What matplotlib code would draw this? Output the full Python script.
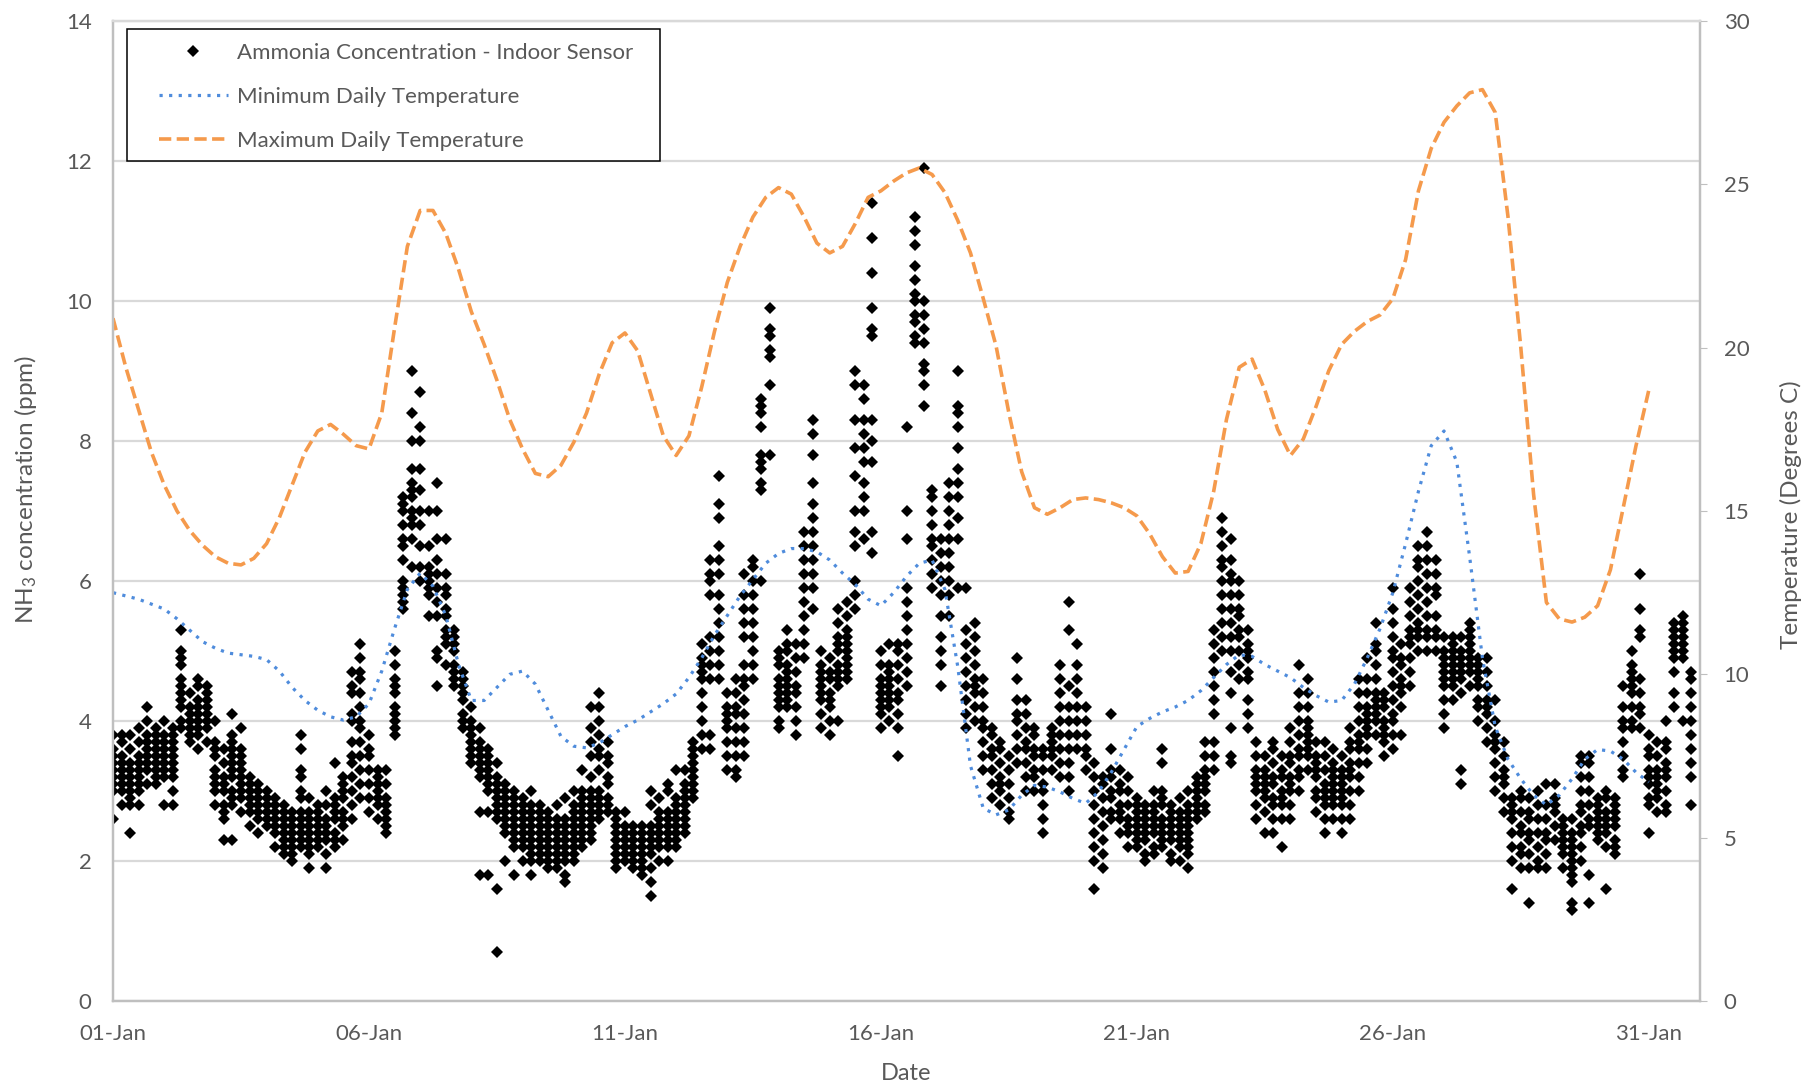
import numpy as np
import matplotlib
matplotlib.use("Agg")
import matplotlib.pyplot as plt
from matplotlib.lines import Line2D
from matplotlib.patches import Rectangle

plt.rcParams['font.family'] = ['Lato', 'DejaVu Sans']
plt.rcParams['mathtext.default'] = 'regular'

# ppm readings, one inner list per 4 hour step, one source line per day
ppm_jan01_05 = [
    [2.6,3.0,3.1,3.2,3.3,3.4,3.5,3.6,3.8],[2.8,3.0,3.1,3.2,3.3,3.4,3.5,3.7,3.8],[2.4,2.8,2.9,3.0,3.1,3.2,3.3,3.4,3.6,3.8],[2.8,3.0,3.1,3.2,3.3,3.4,3.5,3.7,3.9],[3.1,3.3,3.4,3.5,3.6,3.7,3.8,4.0,4.2],[3.1,3.2,3.3,3.4,3.5,3.6,3.7,3.8,3.9],
    [2.8,3.2,3.3,3.4,3.5,3.6,3.7,3.8,4.0],[2.8,3.0,3.2,3.3,3.4,3.5,3.6,3.7,3.8,3.9],[3.9,4.0,4.2,4.3,4.4,4.5,4.6,4.8,4.9,5.0,5.3],[3.7,3.8,3.9,4.0,4.1,4.2,4.4],[3.6,3.8,3.9,4.0,4.1,4.2,4.3,4.5,4.6],[3.7,3.9,4.0,4.1,4.2,4.3,4.4,4.5],
    [2.8,3.0,3.1,3.2,3.3,3.5,3.6,3.7,4.0],[2.3,2.6,2.7,2.8,3.0,3.1,3.2,3.4,3.6],[2.3,2.8,2.9,3.0,3.2,3.3,3.4,3.5,3.6,3.7,3.8,4.1],[2.7,2.9,3.0,3.1,3.2,3.3,3.4,3.5,3.6,3.9],[2.5,2.7,2.8,2.9,3.0,3.1,3.2],[2.4,2.6,2.7,2.8,2.9,3.0,3.1],
    [2.5,2.6,2.7,2.8,2.9,3.0],[2.2,2.4,2.5,2.6,2.7,2.8,2.9],[2.1,2.2,2.3,2.4,2.5,2.6,2.7,2.8],[2.0,2.1,2.2,2.3,2.4,2.5,2.6,2.7],[2.2,2.3,2.4,2.5,2.6,2.7,2.9,3.0,3.2,3.3,3.6,3.8],[1.9,2.1,2.2,2.3,2.4,2.5,2.6,2.7,2.9],
    [2.2,2.3,2.4,2.5,2.6,2.7,2.8],[1.9,2.1,2.3,2.4,2.5,2.6,2.8,3.0],[2.2,2.3,2.4,2.6,2.7,2.8,2.9,3.4],[2.3,2.5,2.6,2.7,2.9,3.0,3.1,3.2],[2.6,2.8,3.0,3.2,3.4,3.5,3.7,4.0,4.1,4.4,4.5,4.7],[2.9,3.1,3.3,3.5,3.7,3.9,4.0,4.2,4.4,4.6,4.7,4.9,5.1],
]
ppm_jan06_10 = [
    [2.7,2.9,3.1,3.3,3.5,3.6,3.8],[2.6,2.8,2.9,3.0,3.1,3.2,3.3],[2.4,2.5,2.6,2.7,2.8,2.9,3.1,3.3],[3.8,3.9,4.0,4.1,4.2,4.4,4.5,4.6,4.8,5.0],[5.6,5.7,5.8,5.9,6.0,6.3,6.5,6.6,6.8,7.0,7.1,7.2],[6.2,6.6,6.8,6.9,7.0,7.2,7.3,7.4,7.6,8.0,8.4,9.0],
    [6.0,6.2,6.5,6.8,7.0,7.3,7.6,8.0,8.2,8.7],[5.5,5.8,5.9,6.0,6.1,6.2,6.5,7.0],[4.5,4.9,5.0,5.5,5.7,5.9,6.1,6.3,6.6,7.0,7.4],[4.8,5.1,5.2,5.3,5.5,5.6,5.8,5.9,6.1,6.6],[4.5,4.6,4.7,4.8,5.0,5.1,5.2,5.3],[3.9,4.0,4.1,4.3,4.4,4.5,4.6,4.7],
    [3.4,3.5,3.6,3.7,3.8,3.9,4.0,4.2],[1.8,2.7,3.2,3.3,3.4,3.5,3.6,3.7,3.9],[1.8,2.7,3.0,3.1,3.2,3.3,3.4,3.5,3.6],[0.7,1.6,2.6,2.7,2.8,2.9,3.0,3.1,3.2,3.4],[2.0,2.4,2.5,2.6,2.7,2.8,2.9,3.0,3.1],[1.8,2.2,2.3,2.4,2.5,2.6,2.7,2.8,2.9,3.0],
    [2.0,2.2,2.3,2.4,2.5,2.6,2.7,2.8,2.9],[1.8,2.0,2.1,2.2,2.3,2.4,2.5,2.6,2.7,2.8,3.0],[2.0,2.1,2.2,2.3,2.4,2.5,2.6,2.7,2.8],[1.9,2.0,2.1,2.2,2.3,2.4,2.5,2.6,2.7],[1.9,2.0,2.1,2.2,2.3,2.4,2.5,2.6,2.8],[1.7,1.8,2.0,2.1,2.2,2.3,2.4,2.5,2.6,2.9],
    [2.0,2.1,2.2,2.3,2.4,2.5,2.6,2.7,2.8,3.0],[2.2,2.3,2.4,2.5,2.6,2.7,2.8,2.9,3.0,3.3],[2.3,2.4,2.5,2.6,2.7,2.8,2.9,3.0,3.2,3.5,3.7,3.9,4.2],[2.6,2.7,2.8,2.9,3.0,3.3,3.5,3.6,3.8,4.0,4.2,4.4],[2.7,2.8,2.9,3.1,3.2,3.4,3.5,3.7],[1.9,2.0,2.1,2.2,2.3,2.4,2.5,2.6,2.7],
]
ppm_jan11_15 = [
    [2.0,2.1,2.2,2.3,2.4,2.5,2.7],[1.9,2.0,2.1,2.2,2.3,2.4,2.5],[1.8,1.9,2.0,2.1,2.2,2.3,2.4,2.5],[1.5,1.7,1.9,2.1,2.2,2.3,2.4,2.5,2.8,3.0],[2.0,2.2,2.3,2.4,2.5,2.6,2.7,2.9],[2.0,2.2,2.3,2.4,2.5,2.6,2.7,3.0,3.1],
    [2.2,2.3,2.4,2.5,2.6,2.7,2.8,2.9,3.3],[2.4,2.5,2.6,2.7,2.8,2.9,3.0,3.1,3.3],[2.9,3.0,3.1,3.2,3.3,3.4,3.5,3.6,3.7],[3.6,3.8,4.0,4.2,4.4,4.6,4.7,4.8,4.9,5.1],[3.6,3.8,4.6,4.8,5.0,5.2,5.8,6.0,6.1,6.3],[4.6,4.8,5.0,5.2,5.4,5.6,5.8,6.1,6.3,6.5,6.9,7.1,7.5],
    [3.3,3.5,3.7,3.9,4.0,4.1,4.2,4.4],[3.2,3.3,3.5,3.7,3.9,4.1,4.2,4.4,4.6],[3.5,3.7,3.9,4.1,4.3,4.5,4.6,4.8,5.2,5.4,5.6,5.8,6.1],[4.6,4.8,5.0,5.2,5.4,5.6,5.8,6.0,6.2,6.3],[6.0,7.3,7.4,7.6,7.7,7.8,8.2,8.4,8.5,8.6],[7.8,8.8,9.2,9.3,9.5,9.6,9.9],
    [3.9,4.0,4.2,4.3,4.4,4.5,4.6,4.8,4.9,5.0],[4.2,4.3,4.4,4.5,4.6,4.7,4.8,5.0,5.1,5.3],[3.8,4.0,4.2,4.4,4.5,4.7,4.9,5.1],[4.9,5.1,5.3,5.5,5.7,5.9,6.1,6.3,6.5,6.7],[5.6,5.9,6.1,6.3,6.5,6.7,6.9,7.1,7.4,7.8,8.1,8.3],[3.9,4.1,4.3,4.4,4.5,4.6,4.7,4.8,5.0],
    [3.8,4.0,4.2,4.3,4.4,4.6,4.7,4.9],[4.0,4.5,4.6,4.7,4.8,5.0,5.1,5.2,5.4,5.6],[4.6,4.7,4.8,4.9,5.0,5.1,5.2,5.3,5.5,5.7],[5.6,5.8,6.0,6.5,6.7,7.0,7.5,7.9,8.3,8.8,9.0],[6.6,7.0,7.2,7.4,7.7,7.9,8.1,8.3,8.6,8.8],[6.4,6.7,7.7,8.0,8.3,9.5,9.6,9.9,10.4,10.9,11.4],
]
ppm_jan16_20 = [
    [3.9,4.1,4.2,4.3,4.4,4.5,4.6,4.8,5.0],[4.0,4.2,4.3,4.4,4.5,4.6,4.7,4.8,5.1],[3.5,3.9,4.1,4.3,4.4,4.6,4.8,5.0,5.1],[4.5,4.7,4.9,5.1,5.3,5.5,5.7,5.9,6.6,7.0,8.2],[9.4,9.5,9.7,9.8,10.0,10.1,10.3,10.5,10.8,11.0,11.2],[8.5,8.8,9.0,9.1,9.4,9.6,9.8,10.0,11.9],
    [5.9,6.1,6.3,6.5,6.6,6.8,7.0,7.2,7.3],[4.5,4.8,5.0,5.2,5.5,5.8,6.0,6.2,6.4,6.6],[5.5,5.8,6.0,6.2,6.4,6.6,6.8,7.0,7.2,7.4],[5.9,6.6,6.9,7.2,7.4,7.6,7.9,8.2,8.4,8.5,9.0],[3.9,4.1,4.3,4.5,4.7,4.9,5.1,5.3,5.9],[4.0,4.2,4.4,4.5,4.6,4.8,5.0,5.2,5.4],
    [3.3,3.5,3.7,3.9,4.0,4.2,4.4,4.6],[2.9,3.1,3.3,3.5,3.6,3.8,3.9],[2.8,3.0,3.1,3.2,3.4,3.6,3.7],[2.6,2.7,2.9,3.1,3.3,3.5],[3.4,3.6,3.8,4.0,4.1,4.3,4.6,4.9],[3.0,3.2,3.4,3.6,3.7,3.9,4.1,4.3],
    [3.0,3.2,3.3,3.5,3.6,3.8,3.9],[2.4,2.6,2.8,3.0,3.1,3.3,3.5,3.6],[3.3,3.5,3.6,3.7,3.8,3.9],[3.2,3.4,3.6,3.8,4.0,4.2,4.4,4.6,4.8],[3.0,3.2,3.4,3.6,3.8,4.0,4.2,4.5,5.3,5.7],[3.6,3.8,4.0,4.2,4.4,4.6,4.8,5.1],
    [3.3,3.5,3.6,3.8,4.0,4.2],[1.6,2.0,2.2,2.4,2.6,2.8,3.0,3.2,3.4],[1.9,2.1,2.3,2.5,2.7,2.9,3.1,3.2],[2.6,2.7,2.9,3.0,3.2,3.3,3.6,4.1],[2.4,2.6,2.7,2.8,3.0,3.1,3.3],[2.2,2.4,2.5,2.6,2.8,3.0,3.2],
    [2.2,2.3,2.4,2.5,2.6,2.7,2.8,2.9],[2.0,2.1,2.3,2.4,2.5,2.6,2.7,2.8],[2.1,2.2,2.4,2.5,2.6,2.7,2.8,3.0],[2.2,2.3,2.4,2.5,2.6,2.8,2.9,3.0,3.4,3.6],[2.0,2.1,2.3,2.4,2.5,2.6,2.7,2.8],[2.0,2.2,2.3,2.4,2.5,2.6,2.7,2.9],
]
ppm_jan22_26 = [
    [1.9,2.1,2.2,2.3,2.4,2.5,2.6,2.7,2.8,3.0],[2.6,2.7,2.8,2.9,3.0,3.1,3.2],[2.7,2.8,3.0,3.1,3.2,3.3,3.5,3.7],[3.3,3.5,3.7,4.1,4.3,4.5,4.7,4.9,5.1,5.3],[5.0,5.2,5.4,5.6,5.8,6.0,6.2,6.3,6.5,6.7,6.9],[3.4,3.5,3.9,4.4,4.7,5.0,5.2,5.4,5.6,5.8,6.0,6.1,6.3,6.6],
    [4.6,4.8,5.0,5.2,5.3,5.5,5.6,5.8,6.0],[3.9,4.1,4.3,4.6,4.7,4.9,5.0,5.1,5.3],[2.6,2.8,3.0,3.1,3.2,3.3,3.5,3.7],[2.4,2.7,2.9,3.0,3.1,3.2,3.3,3.5],[2.4,2.6,2.8,2.9,3.1,3.2,3.4,3.6,3.7],[2.2,2.6,2.8,2.9,3.0,3.2,3.3,3.5],
    [2.6,2.8,3.0,3.1,3.2,3.4,3.5,3.7,3.9],[3.0,3.2,3.3,3.5,3.6,3.8,4.0,4.2,4.4,4.8],[3.3,3.5,3.6,3.7,3.8,3.9,4.0,4.2,4.4,4.6],[2.7,2.9,3.0,3.2,3.3,3.4,3.5,3.7],[2.4,2.6,2.8,2.9,3.0,3.1,3.3,3.5,3.7],[2.6,2.8,2.9,3.0,3.1,3.2,3.3,3.4,3.6],
    [2.4,2.6,2.8,2.9,3.0,3.1,3.2,3.3,3.5],[2.6,2.8,3.0,3.2,3.3,3.4,3.6,3.7,3.9],[3.0,3.2,3.4,3.6,3.7,3.8,4.0,4.2,4.4,4.6],[3.4,3.6,3.8,3.9,4.0,4.1,4.2,4.4,4.6,4.9],[3.8,4.0,4.1,4.2,4.3,4.4,4.6,4.8,5.0,5.1,5.4],[3.5,3.7,3.8,3.9,4.0,4.2,4.3,4.4],
    [3.6,3.8,4.0,4.1,4.3,4.5,4.7,4.9,5.0,5.2,5.4,5.6,5.9],[3.8,4.2,4.4,4.5,4.6,4.8,4.9,5.1],[4.5,4.7,4.9,5.1,5.2,5.3,5.5,5.7,5.9],[5.0,5.2,5.3,5.4,5.6,5.8,6.0,6.2,6.3,6.5],[5.0,5.2,5.3,5.5,5.7,5.9,6.1,6.3,6.5,6.7],[5.0,5.2,5.3,5.5,5.8,5.9,6.1,6.3],
]
ppm_jan27_31 = [
    [3.9,4.1,4.3,4.5,4.6,4.7,4.8,4.9,5.0,5.2],[4.3,4.5,4.6,4.7,4.8,4.9,5.0,5.1,5.2],[3.3,3.1,4.4,4.6,4.7,4.8,4.9,5.0,5.2],[4.5,4.7,4.8,4.9,5.0,5.1,5.2,5.3,5.4],[4.0,4.2,4.3,4.5,4.6,4.7,4.8,4.9],[3.7,3.9,4.1,4.2,4.3,4.5,4.7,4.9],
    [3.0,3.2,3.4,3.6,3.7,3.8,4.0,4.3],[2.7,2.9,3.1,3.2,3.3,3.5,3.7],[1.6,2.0,2.2,2.4,2.6,2.7,2.8,2.9],[1.9,2.1,2.2,2.4,2.5,2.7,2.9,3.0],[1.4,1.9,2.1,2.3,2.4,2.6,2.7,2.9],[1.9,2.0,2.2,2.4,2.6,2.8,3.0],
    [1.9,2.1,2.3,2.4,2.6,2.8,3.1],[2.3,2.5,2.7,2.8,2.9,3.1],[1.9,2.1,2.2,2.3,2.4,2.5,2.6],[1.3,1.4,1.7,1.8,1.9,2.0,2.1,2.2,2.3,2.4,2.6],[2.0,2.2,2.4,2.5,2.7,2.8,3.0,3.2,3.4,3.5],[1.4,1.8,2.5,2.6,2.8,3.0,3.2,3.4,3.5],
    [2.3,2.4,2.5,2.6,2.7,2.8,2.9],[1.6,2.2,2.4,2.5,2.6,2.7,2.9,3.0],[2.1,2.2,2.3,2.5,2.6,2.7,2.8,2.9],[3.2,3.3,3.5,3.7,3.9,4.0,4.2,4.5],[3.9,4.0,4.2,4.4,4.5,4.6,4.7,4.8,5.0],[3.9,4.1,4.2,4.4,4.6,5.2,5.3,5.6,6.1],
    [2.4,2.8,2.9,3.1,3.2,3.3,3.5,3.6,3.8],[2.7,2.9,3.0,3.1,3.2,3.3,3.5,3.7],[2.7,2.8,3.0,3.2,3.3,3.4,3.6,3.7,4.0],[4.2,4.4,4.7,4.9,5.0,5.1,5.2,5.3,5.4],[4.0,4.9,5.0,5.1,5.2,5.3,5.4,5.5],[2.8,3.2,3.4,3.6,3.8,4.0,4.2,4.4,4.6,4.7],
]

# every 6 hours
temp_step_days = [0.25 * k for k in range(121)]
temp_min = [12.5,12.4,12.3,12.15,12.0,11.7,11.35,11.0,10.8,10.65,10.6,10.55,10.45,10.1,9.6,9.2,8.9,8.7,8.6,8.7,9.1,10.1,11.4,12.6,
            13.1,12.7,11.8,10.3,9.2,9.2,9.6,10.0,10.1,9.7,8.9,8.1,7.8,7.75,7.9,8.15,8.4,8.6,8.85,9.1,9.4,9.9,10.5,11.2,
            11.8,12.4,12.9,13.4,13.7,13.85,13.85,13.75,13.5,13.1,12.75,12.3,12.1,12.5,13.0,13.4,13.5,12.6,10.25,7.2,5.9,5.7,5.85,6.3,
            6.6,6.55,6.4,6.2,6.05,6.4,7.0,7.7,8.4,8.65,8.85,9.0,9.2,9.5,9.9,10.3,10.6,10.55,10.3,10.1,9.9,9.6,9.35,9.15,
            9.2,9.7,10.5,11.4,12.5,14.0,15.6,17.0,17.45,16.5,13.6,10.5,8.4,7.4,6.8,6.3,6.0,6.3,6.8,7.4,7.7,7.65,7.4,7.0,6.7]
temp_max = [20.9,19.4,18.1,16.8,15.8,15.0,14.4,13.95,13.6,13.4,13.35,13.55,14.0,14.8,15.8,16.8,17.45,17.65,17.35,17.0,16.9,18.0,20.6,23.1,
            24.2,24.2,23.5,22.4,21.1,20.1,19.0,17.8,16.9,16.15,16.05,16.4,17.1,18.0,19.2,20.15,20.45,19.9,18.6,17.3,16.7,17.3,18.8,20.5,
            22.0,23.1,24.0,24.6,24.9,24.7,24.0,23.2,22.9,23.1,23.8,24.6,24.8,25.1,25.35,25.5,25.3,24.75,23.9,22.9,21.5,20.05,18.0,16.2,
            15.1,14.9,15.1,15.35,15.4,15.35,15.25,15.1,14.85,14.3,13.6,13.1,13.15,14.0,15.6,17.8,19.4,19.65,18.7,17.5,16.7,17.2,18.2,19.3,
            20.1,20.5,20.8,21.0,21.5,22.7,24.8,26.1,26.9,27.4,27.8,27.9,27.2,24.0,20.0,15.5,12.2,11.7,11.6,11.75,12.1,13.2,15.1,17.0,18.7]

date_labels = ['01-Jan','06-Jan','11-Jan','16-Jan','21-Jan','26-Jan','31-Jan']

text_col = '#595959'
grid_col = '#D9D9D9'
axis_col = '#BFBFBF'
black = '#000000'
blue = '#4F8CDC'
orange = '#F59A4C'
marker_ms = 6.6

rows = ppm_jan01_05 + ppm_jan06_10 + ppm_jan11_15 + ppm_jan16_20 + ppm_jan22_26 + ppm_jan27_31
sample_x = []
sample_y = []
for i, row in enumerate(rows):
    for v in row:
        sample_x.append(i / 6)
        sample_y.append(v)

fig = plt.figure(figsize=(18.05, 10.84), dpi=100)
ax = fig.add_axes([113 / 1805, 1 - 1001 / 1084, (1700 - 113) / 1805, (1001 - 21) / 1084])
ax2 = ax.twinx()

ax.plot(sample_x, sample_y, ls='none', marker='D', ms=marker_ms, color=black, mew=0, zorder=3)
ax2.plot(temp_step_days, temp_min, ls=(0, (1, 2)), lw=2.3, color=blue)
ax2.plot(temp_step_days, temp_max, ls=(0, (3.4, 1.5)), lw=2.6, color=orange)

ax.set_xlim(0, 31)
ax.set_ylim(0, 14)
ax2.set_ylim(0, 30)
ax.set_xticks(np.arange(0, 31, 5))
ax.set_xticklabels(date_labels)
ax.set_yticks(np.arange(0, 15, 2))
ax2.set_yticks(np.arange(0, 31, 5))
ax.grid(axis='y', color=grid_col, lw=1.6)
ax.set_axisbelow(True)

for a in (ax, ax2):
    a.spines['top'].set_color(grid_col)
    a.spines['top'].set_linewidth(1.6)
    for side in ('left', 'right', 'bottom'):
        a.spines[side].set_color(axis_col)
        a.spines[side].set_linewidth(1.6)
    a.tick_params(labelsize=16, colors=text_col, length=0)
ax.tick_params(axis='y', pad=15.5)
ax2.tick_params(axis='y', length=5, color=axis_col, pad=12)
ax.tick_params(axis='x', pad=16.5)

ax.set_xlabel('Date', fontsize=17, color=text_col)
ax.xaxis.set_label_coords(0.5, -0.063)
ax.set_ylabel('NH$_3$ concentration (ppm)', fontsize=17.5, color=text_col)
ax.yaxis.set_label_coords(-0.0465, 0.522)
ax2.set_ylabel('Temperature (Degrees C)', fontsize=17.5, color=text_col)
ax2.yaxis.set_label_coords(1.0505, 0.496)

handles = [
    Line2D([], [], ls='none', marker='D', ms=marker_ms, color=black, mew=0),
    Line2D([], [], ls=(0, (1, 2)), lw=2.3, color=blue),
    Line2D([], [], ls=(0, (3.4, 1.5)), lw=2.6, color=orange),
]
labels = ['Ammonia Concentration - Indoor Sensor', 'Minimum Daily Temperature', 'Maximum Daily Temperature']
ax2.add_patch(Rectangle((14 / 1587, 1 - 140 / 980), 533 / 1587, 132 / 980, transform=ax2.transAxes,
                        facecolor='white', edgecolor='black', lw=1.1, zorder=5))
leg = ax2.legend(handles, labels, loc='upper left', bbox_to_anchor=(0.0289, 0.978), fontsize=16,
                 labelcolor=text_col, frameon=False, borderpad=0, labelspacing=1.09, handlelength=3.1,
                 handletextpad=0.4, borderaxespad=0)
leg.set_zorder(6)

fig.savefig('out.png', dpi=100)
